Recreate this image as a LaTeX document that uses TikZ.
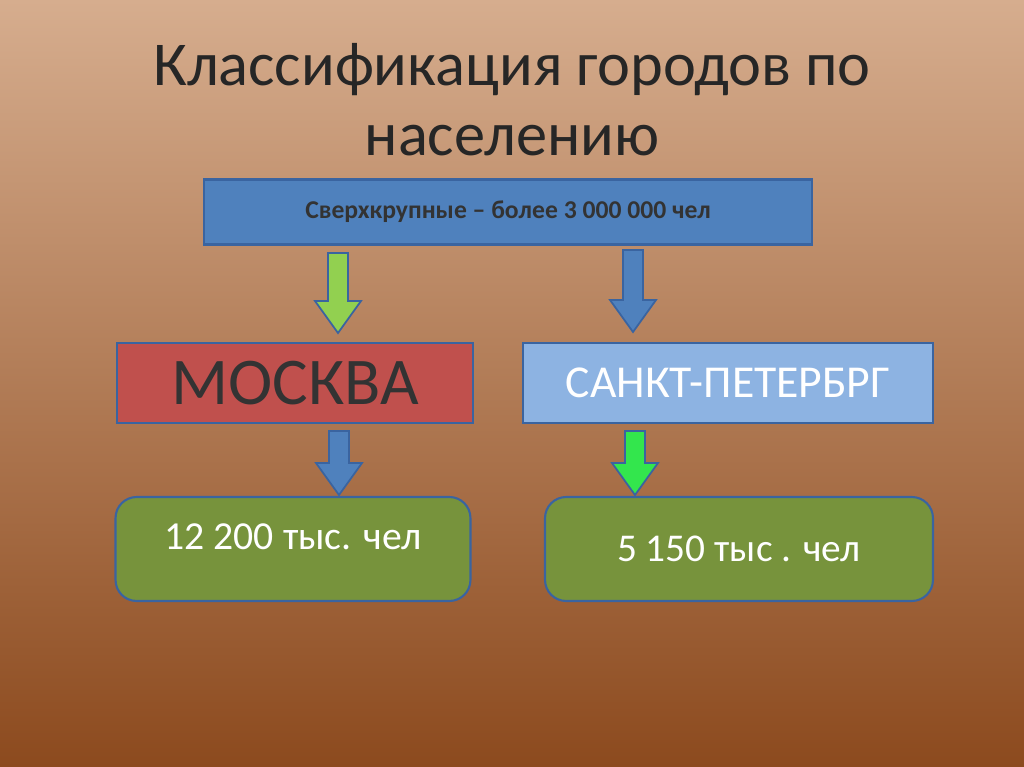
\documentclass[tikz,border=0pt]{standalone}
\usepackage{fontspec}
\setmainfont{Carlito}

\definecolor{topbg}{HTML}{D6AD8E}
\definecolor{botbg}{HTML}{8C4A1E}
\definecolor{darkblue}{HTML}{4F81BD}
\definecolor{lightblue}{HTML}{8DB3E2}
\definecolor{moscowred}{HTML}{C0504D}
\definecolor{olivegreen}{HTML}{77933C}
\definecolor{arrowgreen}{HTML}{92D050}
\definecolor{arrowlime}{HTML}{33E64D}
\definecolor{edgeblue}{HTML}{3A64A0}

\tikzset{
  box/.style={draw=edgeblue, line width=1.2pt, inner sep=0pt},
  blockarrow/.style={draw=edgeblue, line width=1pt, line join=miter}
}
% block arrow pointing down: x, top y, bottom y, colour
\newcommand\downblock[4]{%
  \filldraw[blockarrow, fill=#4] (#1-10,#2) -- (#1+10,#2) -- (#1+10,#3-32)
    -- (#1+23,#3-32) -- (#1,#3) -- (#1-23,#3-32) -- (#1-10,#3-32) -- cycle;}

\begin{document}
\begin{tikzpicture}[x=0.02cm, y=-0.02cm]
% background
\shade[top color=topbg, bottom color=botbg] (0,0) rectangle (1024,767);
\useasboundingbox (0,0) rectangle (1024,767);

% title
\node[align=center, font=\fontsize{35.5}{40}\selectfont, text=black!85] (title) at (512,100)
  {Классификация городов по\\населению};

% top box
\node[box, fill=darkblue, minimum width=12.16cm, minimum height=1.3cm,
  font=\bfseries\fontsize{14.6}{17}\selectfont, text=black!80] (top) at (508,212)
  {Сверхкрупные – более 3 000 000 чел};

% city boxes
\node[box, fill=moscowred, minimum width=7.12cm, minimum height=1.6cm,
  font=\fontsize{38}{42}\selectfont, text=black!80] (msk) at (295,383) {МОСКВА};
\node[box, fill=lightblue, minimum width=8.2cm, minimum height=1.6cm,
  font=\fontsize{26}{30}\selectfont, text=white] (spb) at (728,383) {САНКТ-ПЕТЕРБРГ};

% population boxes
\node[box, rounded corners=12pt, fill=olivegreen, minimum width=7.1cm, minimum height=2.08cm] (mskpop) at (293,549) {};
\node[text=white, font=\fontsize{22.6}{26}\selectfont] (mskval) at (293,537) {12 200 тыс. чел};
\node[box, rounded corners=12pt, fill=olivegreen, minimum width=7.76cm, minimum height=2.08cm,
  text=white, font=\fontsize{22.4}{26}\selectfont] (spbpop) at (739,549) {5 150 тыс . чел};

% arrows
\downblock{338}{253}{333}{arrowgreen}
\downblock{633}{250}{332}{darkblue}
\downblock{339}{431}{495}{darkblue}
\downblock{635}{431}{495}{arrowlime}
\end{tikzpicture}
\end{document}
